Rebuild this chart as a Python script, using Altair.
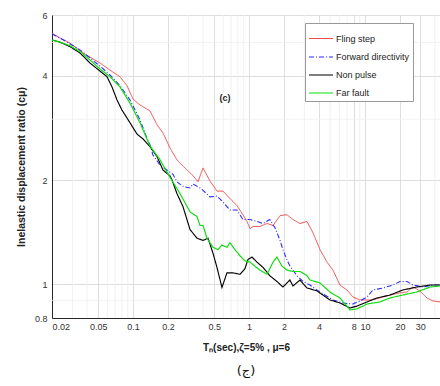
import altair as alt
import pandas as pd

series_names = ["Fling step", "Forward directivity", "Non pulse", "Far fault"]
series_colors = ["#f24a4a", "#2a2aff", "#000000", "#11dd11"]
series_dash = [[1, 0], [5, 2, 1, 2], [1, 0], [1, 0]]
series_width = [1.0, 1.2, 2.0, 1.6]

red_T = [0.020, 0.0234, 0.0286, 0.0370, 0.0519, 0.0632, 0.0771, 0.0886, 0.100, 0.1147,
         0.140, 0.161, 0.181, 0.208, 0.239, 0.269, 0.292, 0.329, 0.363, 0.401,
         0.460, 0.529, 0.596, 0.685, 0.786, 0.886, 0.959, 1.02, 1.08, 1.24,
         1.43, 1.61, 1.85, 2.12, 2.39, 2.75, 3.16, 3.56, 4.09, 4.70,
         5.29, 6.08, 6.98, 7.87, 9.04, 11.0, 13.4, 16.4, 20.0, 23.0,
         25.9, 29.7, 34.2, 38.5, 44.3]
red_v = [5.32, 5.15, 4.98, 4.66, 4.36, 4.16, 3.98, 3.75, 3.43, 3.30,
         3.17, 2.89, 2.74, 2.48, 2.29, 2.20, 2.14, 2.06, 1.98, 2.17,
         1.99, 1.86, 1.86, 1.77, 1.69, 1.59, 1.52, 1.45, 1.47, 1.47,
         1.50, 1.48, 1.58, 1.59, 1.54, 1.50, 1.52, 1.41, 1.26, 1.16,
         1.10, 0.996, 0.964, 0.92, 0.902, 0.902, 0.914, 0.932, 0.945, 0.951,
         0.983, 0.958, 0.914, 0.896, 0.89]

blue_T = [0.020, 0.0234, 0.0286, 0.0349, 0.0425, 0.0519, 0.0632, 0.0771, 0.0941, 0.1147,
          0.132, 0.140, 0.148, 0.171, 0.196, 0.221, 0.239, 0.269, 0.310, 0.329,
          0.378, 0.401, 0.460, 0.529, 0.596, 0.685, 0.786, 0.886, 1.02, 1.17,
          1.32, 1.51, 1.67, 1.85, 1.96, 2.12, 2.25, 2.59, 2.92, 3.35,
          4.09, 5.29, 6.45, 7.87, 9.04, 10.4, 11.7, 14.3, 17.4, 20.0,
          23.0, 25.9, 31.6, 38.5, 44.3]
blue_v = [5.29, 5.15, 4.95, 4.76, 4.51, 4.27, 4.03, 3.75, 3.41, 2.99,
          2.64, 2.53, 2.37, 2.21, 2.14, 2.08, 1.98, 1.92, 1.90, 1.95,
          1.90, 1.87, 1.79, 1.80, 1.73, 1.64, 1.64, 1.54, 1.54, 1.52,
          1.50, 1.54, 1.46, 1.34, 1.26, 1.18, 1.13, 1.06, 1.02, 0.996,
          0.951, 0.902, 0.884, 0.878, 0.896, 0.92, 0.964, 0.977, 0.996, 1.02,
          1.02, 0.996, 0.983, 0.996, 0.996]

black_T = [0.020, 0.0234, 0.0286, 0.0349, 0.0425, 0.0519, 0.0596, 0.0658, 0.0727, 0.0802,
           0.0941, 0.108, 0.122, 0.140, 0.161, 0.181, 0.208, 0.217, 0.239, 0.269,
           0.310, 0.356, 0.401, 0.443, 0.489, 0.529, 0.584, 0.645, 0.727, 0.835,
           0.922, 0.978, 1.06, 1.17, 1.32, 1.51, 1.74, 1.96, 2.25, 2.39,
           2.75, 3.16, 3.85, 4.98, 6.08, 7.41, 8.52, 10.4, 12.7, 16.4,
           21.2, 28.0, 36.3, 44.3]
black_v = [5.08, 5.01, 4.86, 4.66, 4.36, 4.13, 3.98, 3.72, 3.41, 3.19,
           2.93, 2.72, 2.63, 2.50, 2.34, 2.14, 2.06, 2.00, 1.83, 1.68,
           1.44, 1.36, 1.34, 1.36, 1.23, 1.12, 0.98, 1.08, 1.08, 1.07,
           1.11, 1.18, 1.20, 1.16, 1.12, 1.06, 1.02, 0.983, 1.03, 0.99,
           1.03, 0.977, 0.958, 0.902, 0.884, 0.855, 0.866, 0.89, 0.914, 0.932,
           0.964, 0.983, 0.996, 0.996]

green_T = [0.020, 0.0234, 0.0286, 0.0349, 0.0425, 0.0519, 0.0632, 0.0771, 0.0941, 0.1147,
           0.140, 0.171, 0.208, 0.254, 0.292, 0.310, 0.356, 0.378, 0.401, 0.434,
           0.489, 0.540, 0.584, 0.645, 0.685, 0.756, 0.835, 0.922, 1.02, 1.12,
           1.24, 1.43, 1.61, 1.74, 1.92, 2.12, 2.39, 2.75, 3.16, 3.35,
           4.09, 4.98, 6.08, 6.98, 7.41, 8.52, 10.4, 13.4, 16.4, 21.2,
           28.0, 36.3, 44.3]
green_v = [5.08, 5.01, 4.89, 4.70, 4.45, 4.19, 3.98, 3.72, 3.34, 2.93,
           2.51, 2.29, 2.04, 1.83, 1.68, 1.62, 1.57, 1.48, 1.48, 1.36,
           1.28, 1.26, 1.30, 1.28, 1.32, 1.26, 1.21, 1.17, 1.16, 1.13,
           1.10, 1.07, 1.16, 1.20, 1.13, 1.10, 1.09, 1.09, 1.06, 1.03,
           1.01, 0.951, 0.914, 0.866, 0.844, 0.85, 0.878, 0.89, 0.914, 0.932,
           0.951, 0.983, 0.99]

x_ticks = [0.02, 0.05, 0.1, 0.2, 0.5, 1, 2, 4, 8, 10, 20, 30]
x_minor = [0.03, 0.04, 0.06, 0.07, 0.08, 0.09, 0.3, 0.4, 0.6, 0.7, 0.8, 0.9,
           3, 5, 6, 7, 9, 40]
y_ticks = [0.8, 1, 2, 4, 6]
y_minor = [0.9, 3, 5]
x_domain = [0.02, 44.3]
y_domain = [0.8, 6]

FONT = "Liberation Sans"

xs = alt.Scale(type="log", domain=x_domain, nice=False)
ys = alt.Scale(type="log", domain=y_domain, nice=False)

frames = []
for name, T, v in [("Fling step", red_T, red_v),
                   ("Forward directivity", blue_T, blue_v),
                   ("Non pulse", black_T, black_v),
                   ("Far fault", green_T, green_v)]:
    frames.append(pd.DataFrame({"T": T, "v": v, "series": name}))

color_enc = alt.Color("series:N", scale=alt.Scale(domain=series_names, range=series_colors),
                      legend=alt.Legend(
                          title=None, orient="none", legendX=253, legendY=8,
                          fillColor="white", strokeColor="#999999", padding=3,
                          labelFont=FONT, labelFontSize=9, labelColor="#222222",
                          symbolType="stroke", symbolSize=576, rowPadding=-12,
                          labelOffset=2, labelLimit=200))
dash_enc = alt.StrokeDash("series:N", scale=alt.Scale(domain=series_names, range=series_dash),
                          legend=None)
width_enc = alt.StrokeWidth("series:N", scale=alt.Scale(domain=series_names, range=series_width),
                            legend=None)

minor_x = alt.Chart(pd.DataFrame({"x": x_minor})).mark_rule(
    color="#eeeeee", strokeWidth=0.8).encode(x=alt.X("x:Q", scale=xs))
minor_y = alt.Chart(pd.DataFrame({"y": y_minor})).mark_rule(
    color="#eeeeee", strokeWidth=0.8).encode(y=alt.Y("y:Q", scale=ys))

base_axes = alt.Chart(frames[0]).mark_line(opacity=0).encode(
    x=alt.X("T:Q", scale=xs,
            axis=alt.Axis(values=x_ticks, format="~g", labelOverlap=False,
                          grid=True, gridColor="#dedede", ticks=False,
                          domainColor="#262626", labelColor="#333333",
                          labelFont=FONT, labelFontSize=9, labelPadding=4,
                          title="Tₙ(sec),ζ=5% , μ=6", titleFont=FONT,
                          titleFontSize=10, titleFontWeight="bold",
                          titleColor="#222222", titlePadding=11)),
    y=alt.Y("v:Q", scale=ys,
            axis=alt.Axis(values=y_ticks, format="~g", grid=True,
                          gridColor="#dedede", ticks=False,
                          domainColor="#262626", labelColor="#333333",
                          labelFont=FONT, labelFontSize=9, labelPadding=5,
                          title="Inelastic displacement ratio (cμ)",
                          titleFont=FONT, titleFontSize=10.5,
                          titleFontWeight="bold", titleColor="#222222",
                          titlePadding=8)),
)

lines = []
for df in frames:
    lines.append(alt.Chart(df).mark_line(clip=True).encode(
        x=alt.X("T:Q", scale=xs),
        y=alt.Y("v:Q", scale=ys),
        color=color_enc, strokeDash=dash_enc, strokeWidth=width_enc,
    ))

ann_label = ["(c)"]
ann_T = [0.62]
ann_v = [3.46]
annot = alt.Chart(pd.DataFrame({"T": ann_T, "v": ann_v, "t": ann_label})).mark_text(
    font=FONT, fontSize=9, fontWeight="bold", color="#222222").encode(
    x=alt.X("T:Q", scale=xs), y=alt.Y("v:Q", scale=ys), text="t:N")

chart = alt.layer(minor_x, minor_y, base_axes, *lines, annot).properties(
    width=388, height=303,
    padding={"left": 52, "top": 15, "right": 0, "bottom": 68},
    autosize="none",
    title=alt.TitleParams("(ج)", orient="bottom", fontSize=13,
                          fontWeight="normal", font="DejaVu Sans",
                          color="#111111", offset=13, anchor="middle"),
).configure_view(stroke="#262626", strokeWidth=0.8).configure(background="white")

chart.save("out.html", embed_options={"renderer": "svg", "actions": False})
